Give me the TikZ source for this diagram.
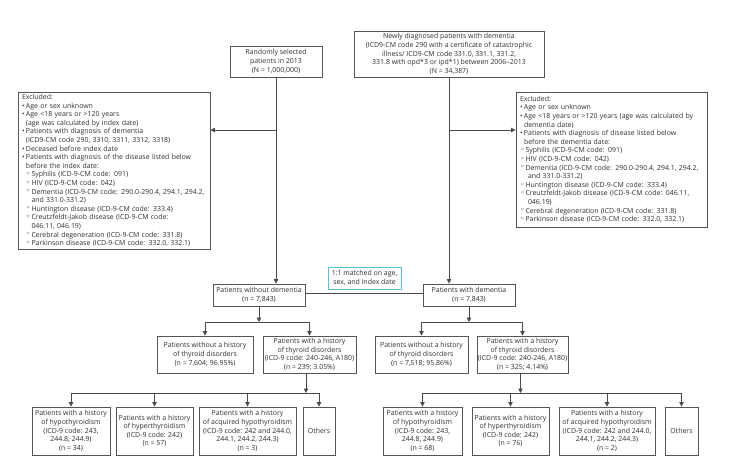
\documentclass[tikz,border=0pt]{standalone}
\usepackage{fontspec}
\setmainfont{Open Sans}
\newfontfamily\dvfont{DejaVu Sans}
\usetikzlibrary{arrows.meta}
\definecolor{linec}{HTML}{4A4A4A}
\definecolor{boxc}{HTML}{555555}
\definecolor{txtc}{HTML}{2E2E2E}
\definecolor{matchc}{HTML}{5DBEDC}
\newcommand{\bu}{\makebox[4pt][l]{•}}
\newcommand{\ci}{\makebox[5.5pt][l]{\raisebox{0.3pt}{\dvfont\fontsize{8}{6}\selectfont ◦}}}
\tikzset{
  box/.style={draw=boxc, line width=0.9pt, inner sep=0pt, align=center, text=txtc,
    font=\fontsize{6.95}{8.6}\selectfont},
  exbox/.style={box, align=left, inner xsep=4pt},
  arr/.style={draw=linec, line width=0.8pt, -{Triangle[length=4.5pt,width=4.5pt]}},
  ln/.style={draw=linec, line width=0.8pt}
}
\begin{document}
\begin{tikzpicture}[x=1pt,y=-1pt]
\useasboundingbox (0,0) rectangle (732,466);
% top
\node[box, minimum width=92pt, minimum height=31pt] (rand) at (276,61.5)
  {Randomly selected\\patients in 2013\\(N = 1,000,000)};
\node[box, minimum width=190pt, minimum height=46pt] (newd) at (449,54)
  {Newly diagnosed patients with dementia\\(ICD9-CM code 290 with a certificate of catastrophic\\illness/ ICD9-CM code 331.0, 331.1, 331.2,\\331.8 with opd*3 or ipd*1) between 2006–2013\\(N = 34,387)};
% exclusion boxes
\node[exbox, text width=184pt, minimum height=157pt] (exL) at (114,170.5)
  {Excluded:\\
  \bu Age or sex unknown\\
  \bu Age <18 years or >120 years\\
  \hspace*{4pt}(age was calculated by index date)\\
  \bu Patients with diagnosis of dementia\\
  \hspace*{4pt}(ICD9-CM code 290, 3310, 3311, 3312, 3318)\\
  \bu Deceased before index date\\
  \bu Patients with diagnosis of the disease listed below\\
  \hspace*{4pt}before the index date:\\
  \hspace*{4pt}\ci Syphilis (ICD-9-CM code: 091)\\
  \hspace*{4pt}\ci HIV (ICD-9-CM code: 042)\\
  \hspace*{4pt}\ci Dementia (ICD-9-CM code: 290.0-290.4, 294.1, 294.2,\\
  \hspace*{9.5pt}and 331.0-331.2)\\
  \hspace*{4pt}\ci Huntington disease (ICD-9-CM code: 333.4)\\
  \hspace*{4pt}\ci Creutzfeldt-Jakob disease (ICD-9-CM code:\\
  \hspace*{9.5pt}046.11, 046.19)\\
  \hspace*{4pt}\ci Cerebral degeneration (ICD-9-CM code: 331.8)\\
  \hspace*{4pt}\ci Parkinson disease (ICD-9-CM code: 332.0, 332.1)};
\node[exbox, text width=183pt, minimum height=135pt] (exR) at (611.5,159.5)
  {Excluded:\\
  \bu Age or sex unknown\\
  \bu Age <18 years or >120 years (age was calculated by\\
  \hspace*{4pt}dementia date)\\
  \bu Patients with diagnosis of disease listed below\\
  \hspace*{4pt}before the dementia date:\\
  \ci Syphilis (ICD-9-CM code: 091)\\
  \ci HIV (ICD-9-CM code: 042)\\
  \ci Dementia (ICD-9-CM code: 290.0-290.4, 294.1, 294.2,\\
  \hspace*{8pt}and 331.0-331.2)\\
  \ci Huntington disease (ICD-9-CM code: 333.4)\\
  \ci Creutzfeldt-Jakob disease (ICD-9-CM code: 046.11,\\
  \hspace*{8pt}046.19)\\
  \ci Cerebral degeneration (ICD-9-CM code: 331.8)\\
  \ci Parkinson disease (ICD-9-CM code: 332.0, 332.1)};
% middle
\node[box, minimum width=92pt, minimum height=22pt] (nodem) at (259,295)
  {Patients without dementia\\(n = 7,843)};
\node[box, minimum width=92pt, minimum height=22pt] (dem) at (469,295)
  {Patients with dementia\\(n = 7,843)};
\node[box, draw=matchc, minimum width=73pt, minimum height=22pt] (match) at (364.5,278)
  {1:1 matched on age,\\sex, and index date};
% row 3
\node[box, minimum width=96pt, minimum height=37pt] (L3a) at (205,354.5)
  {Patients without a history\\of thyroid disorders\\(n = 7,604; 96.95\%)};
\node[box, minimum width=93pt, minimum height=37pt] (L3b) at (309.5,354.5)
  {Patients with a history\\of thyroid disorders\\(ICD-9 code: 240-246, A180)\\(n = 239; 3.05\%)};
\node[box, minimum width=93pt, minimum height=37pt] (R3a) at (421.5,354.5)
  {Patients without a history\\of thyroid disorders\\(n = 7,518; 95.86\%)};
\node[box, minimum width=91pt, minimum height=37pt] (R3b) at (522.5,354.5)
  {Patients with a history\\of thyroid disorders\\(ICD-9 code: 240-246, A180)\\(n = 325; 4.14\%)};
% row 4 left
\node[box, minimum width=78pt, minimum height=48pt] (L4a) at (71,431)
  {Patients with a history\\of hypothyroidism\\(ICD-9 code: 243,\\244.8, 244.9)\\(n = 34)};
\node[box, minimum width=77pt, minimum height=48pt] (L4b) at (154.5,431)
  {Patients with a history\\of hyperthyroidism\\(ICD-9 code: 242)\\(n = 57)};
\node[box, minimum width=97pt, minimum height=48pt] (L4c) at (247.5,431)
  {Patients with a history\\of acquired hypothyroidism\\(ICD-9 code: 242 and 244.0,\\244.1, 244.2, 244.3)\\(n = 3)};
\node[box, minimum width=32pt, minimum height=48pt] (L4d) at (319,431) {Others};
% row 4 right
\node[box, minimum width=79pt, minimum height=48pt] (R4a) at (422.5,431)
  {Patients with a history\\of hypothyroidism\\(ICD-9 code: 243,\\244.8, 244.9)\\(n = 68)};
\node[box, minimum width=77pt, minimum height=48pt] (R4b) at (510.5,431)
  {Patients with a history\\of hyperthyroidism\\(ICD-9 code: 242)\\(n = 76)};
\node[box, minimum width=96pt, minimum height=48pt] (R4c) at (607,431)
  {Patients with a history\\of acquired hypothyroidism\\(ICD-9 code: 242 and 244.0,\\244.1, 244.2, 244.3)\\(n = 2)};
\node[box, minimum width=33pt, minimum height=48pt] (R4d) at (681.5,431) {Others};
% connectors top
\coordinate (jL) at (276,130);
\coordinate (jR) at (449,130);
\draw[arr] (rand.south) -- (rand.south |- nodem.north);
\draw[arr] (newd.south) -- (newd.south |- dem.north);
\draw[arr] (jL) -- (jL -| exL.east);
\draw[arr] (jR) -- (jR -| exR.west);
\draw[ln] ([yshift=2pt]nodem.east) -- ([yshift=2pt]dem.west);
% row 3 branches
\coordinate (bL) at (259,322);
\coordinate (bR) at (469,322);
\draw[arr] (nodem.south) -- (bL);
\draw[arr] (dem.south) -- (bR);
\draw[arr] (bL) -| (L3a.north);
\draw[arr] (bL) -| (L3b.north);
\draw[arr] (bR) -| (R3a.north);
\draw[arr] (bR) -| (R3b.north);
% row 4 branches
\coordinate (cL) at (306,393);
\coordinate (cR) at (520.5,393);
\draw[arr] ([xshift=-3.5pt]L3b.south) -- (cL);
\draw[arr] ([xshift=-2pt]R3b.south) -- (cR);
\foreach \n in {L4a,L4b,L4c,L4d} {\draw[arr] (cL) -| (\n.north);}
\foreach \n in {R4a,R4b,R4c,R4d} {\draw[arr] (cR) -| (\n.north);}
\end{tikzpicture}
\end{document}
